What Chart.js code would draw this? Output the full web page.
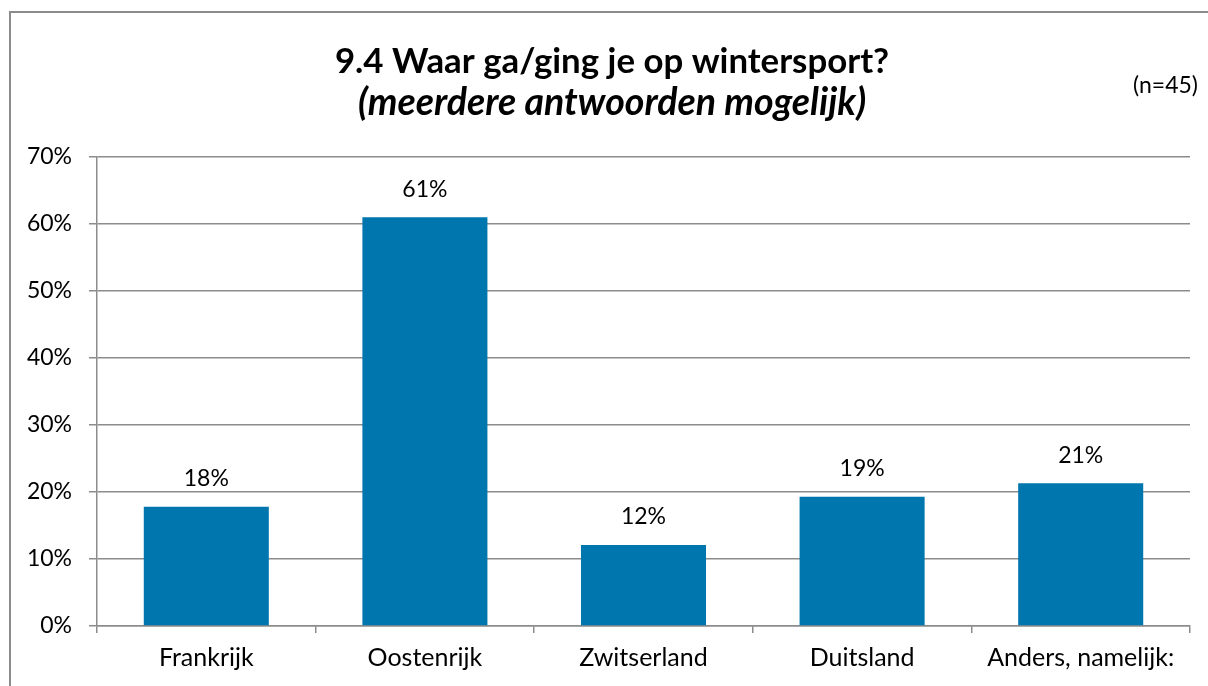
<!DOCTYPE html>
<html>
<head>
<meta charset="utf-8">
<script src="https://cdn.jsdelivr.net/npm/chart.js@4.4.1/dist/chart.umd.min.js"></script>
<style>
  html, body { margin: 0; padding: 0; background: #fff; overflow: hidden; }
  #wrap { position: relative; width: 1208px; height: 686px; }
  #frame { position: absolute; left: 9px; top: 11px; width: 1300px; height: 800px; border: 2px solid #8c8c8c; box-sizing: border-box; }
  canvas { position: absolute; left: 0; top: 0; }
</style>
</head>
<body>
<div id="wrap">
  <div id="frame"></div>
  <canvas id="c" width="1208" height="686"></canvas>
</div>
<script>
const categories = ["Frankrijk", "Oostenrijk", "Zwitserland", "Duitsland", "Anders, namelijk:"];
const values = [17.8, 61.0, 12.1, 19.3, 21.3];
const valueLabels = ["18%", "61%", "12%", "19%", "21%"];
const yTicks = [0, 10, 20, 30, 40, 50, 60, 70];
const titleLine1 = "9.4 Waar ga/ging je op wintersport?";
const titleLine2 = "(meerdere antwoorden mogelijk)";
const sampleNote = "(n=45)";

const FONT = "Lato, 'Open Sans', sans-serif";
const BAR = "#0076AE";
const GRID = "#8c8c8c";

function fitFont(ctx, style, text, targetWidth) {
  ctx.font = style + " 100px " + FONT;
  const w = ctx.measureText(text).width;
  const size = Math.round(100 * targetWidth / w * 10) / 10;
  ctx.font = style + " " + size + "px " + FONT;
}

const decor = {
  id: 'decor',
  afterDatasetsDraw(chart) {
    const ctx = chart.ctx;
    const meta = chart.getDatasetMeta(0);
    ctx.save();
    ctx.fillStyle = "#000";
    ctx.font = "23px " + FONT;
    ctx.textAlign = "center";
    ctx.textBaseline = "middle";
    meta.data.forEach((bar, i) => {
      ctx.fillText(valueLabels[i], bar.x, bar.y - 28);
    });
    ctx.restore();
  },
  afterDraw(chart) {
    const ctx = chart.ctx;
    ctx.save();
    ctx.fillStyle = "#000";
    ctx.textAlign = "center";
    ctx.textBaseline = "middle";
    fitFont(ctx, "bold", titleLine1, 555);
    ctx.fillText(titleLine1, 612, 62);
    fitFont(ctx, "italic bold", titleLine2, 508);
    ctx.fillText(titleLine2, 612, 103);
    ctx.font = "23px " + FONT;
    ctx.textAlign = "right";
    ctx.fillText(sampleNote, 1198, 86);
    ctx.restore();
  }
};

new Chart(document.getElementById('c'), {
  type: 'bar',
  data: {
    labels: categories,
    datasets: [{
      data: values,
      backgroundColor: BAR,
      borderWidth: 0,
      categoryPercentage: 1.0,
      barPercentage: 0.572
    }]
  },
  options: {
    responsive: false,
    animation: false,
    devicePixelRatio: 1,
    layout: { padding: { top: 157, right: 18, bottom: 0, left: 0 } },
    plugins: {
      legend: { display: false },
      title: { display: false },
      tooltip: { enabled: false }
    },
    scales: {
      x: {
        grid: { display: true, drawOnChartArea: false, drawTicks: true, tickLength: 7, color: GRID, lineWidth: 1.5, offset: true },
        border: { display: true, color: GRID, width: 1.5 },
        ticks: { color: "#000", font: { family: FONT, size: 25 }, padding: 10, maxRotation: 0, autoSkip: false },
        afterFit(scale) { scale.height = 60; }
      },
      y: {
        min: 0, max: 70,
        afterBuildTicks(scale) { scale.ticks = yTicks.map(v => ({ value: v })); },
        grid: { color: GRID, lineWidth: 1.5, drawTicks: true, tickLength: 8 },
        border: { display: true, color: GRID, width: 1.5 },
        ticks: { color: "#000", font: { family: FONT, size: 23 }, padding: 17, callback: v => v + "%" },
        afterFit(scale) { scale.width = 97; }
      }
    }
  },
  plugins: [decor]
});
</script>
</body>
</html>
